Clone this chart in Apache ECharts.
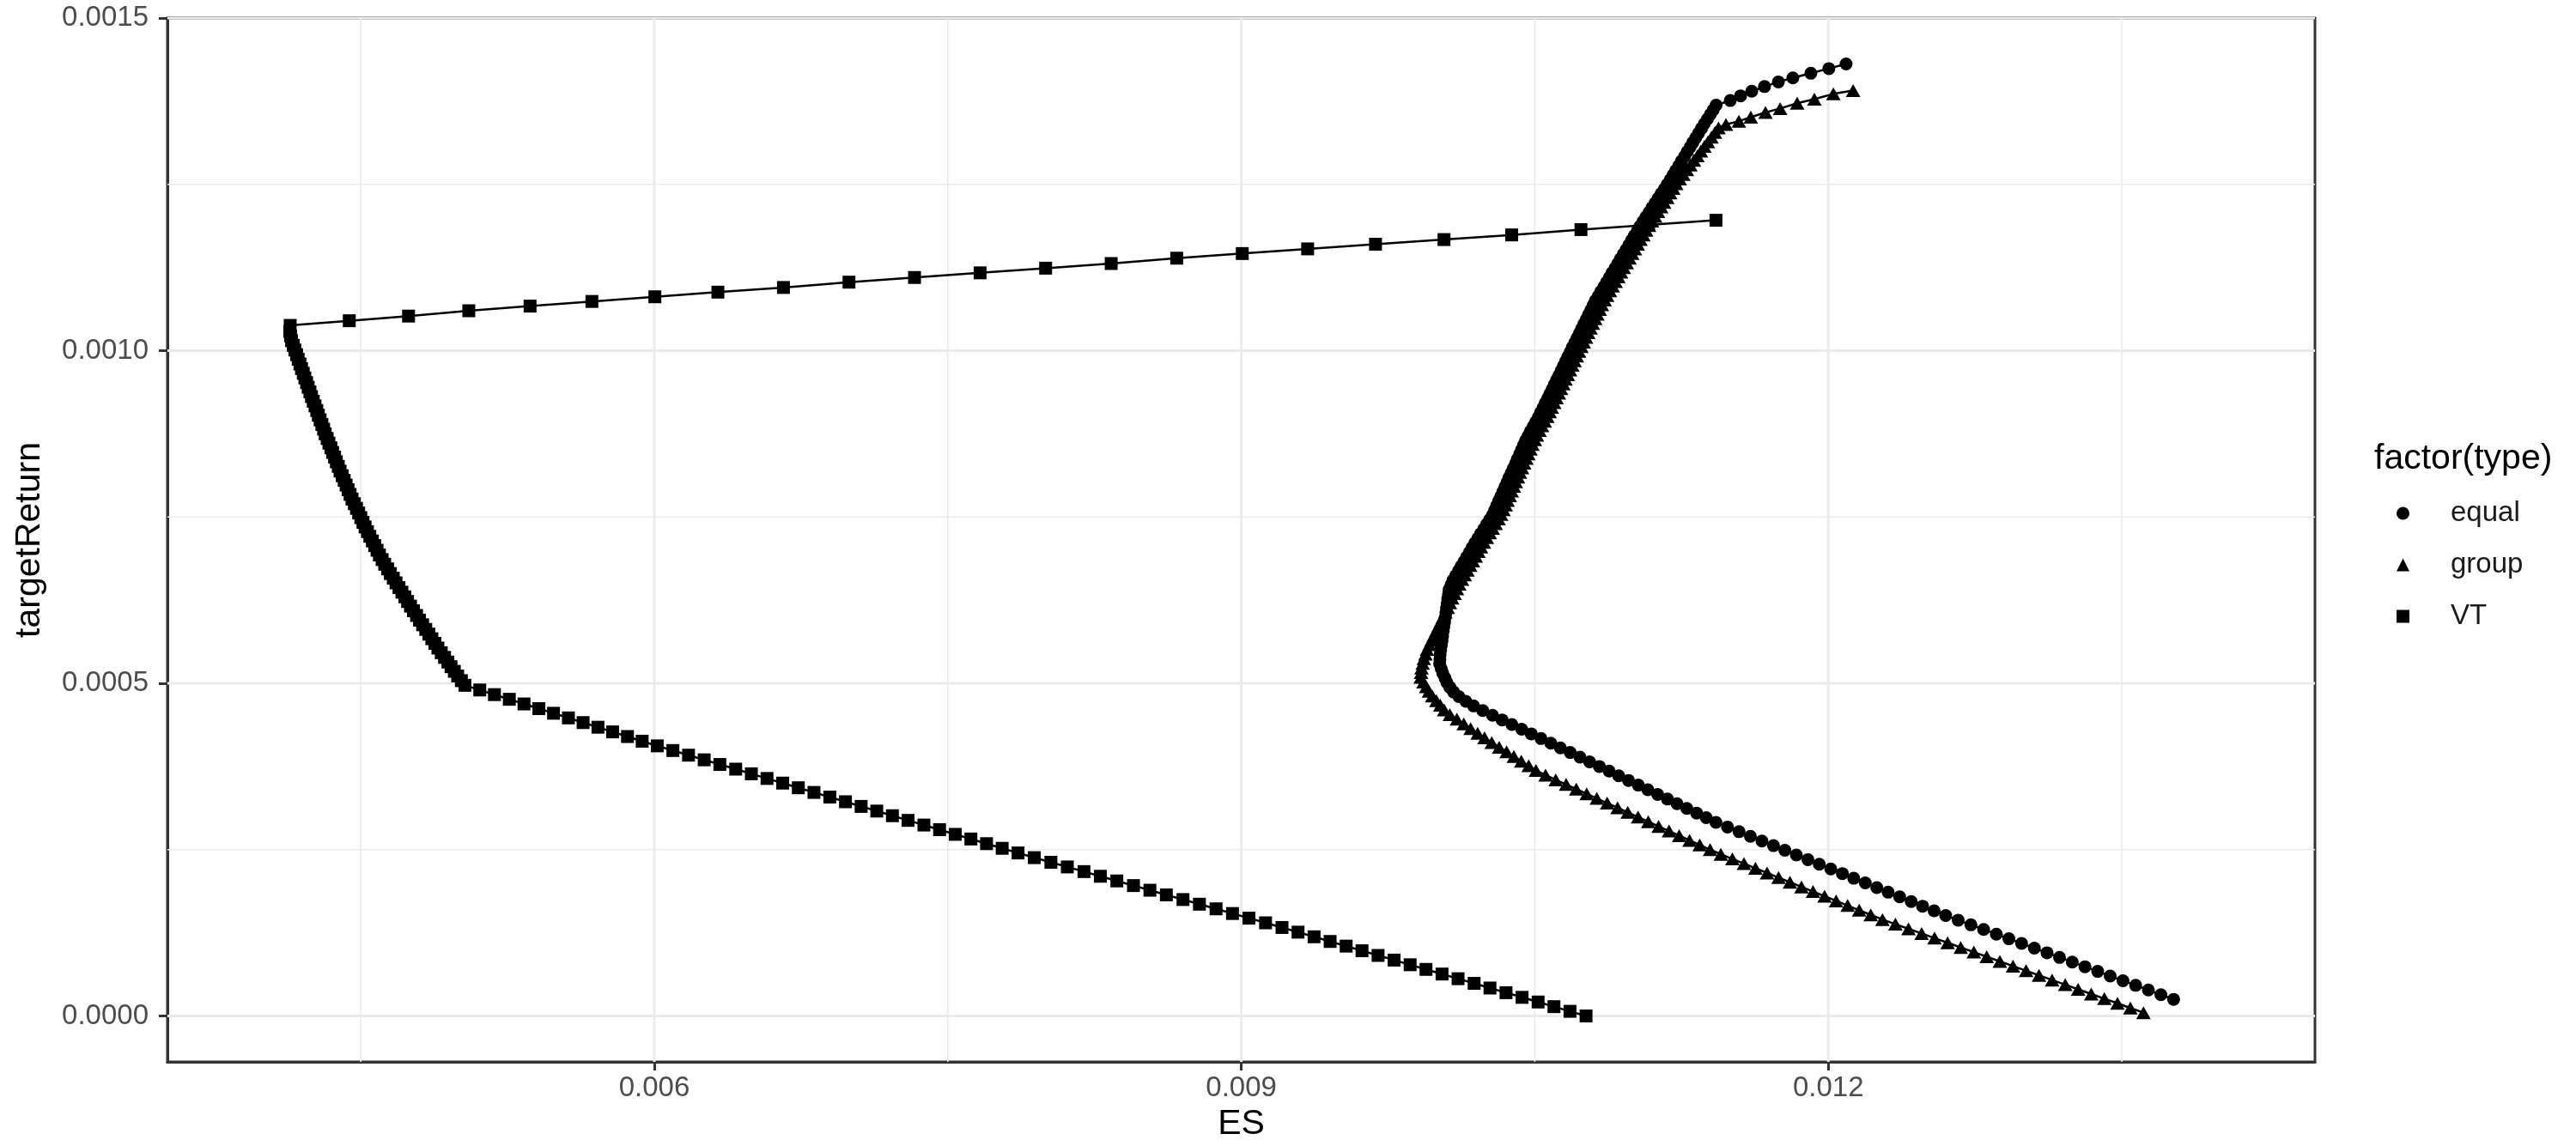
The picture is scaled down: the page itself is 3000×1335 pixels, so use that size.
<!DOCTYPE html>
<html>
<head>
<meta charset="utf-8">
<title>ES vs targetReturn</title>
<script src="https://cdn.jsdelivr.net/npm/echarts@6.0.0/dist/echarts.min.js"></script>
<style>
  html, body { margin: 0; padding: 0; background: #fff; }
  #chart { width: 3000px; height: 1335px; }
</style>
</head>
<body>
<div id="chart"></div>
<script>
// axis limits, ticks and grid lines
const xLimits = [0.0035117, 0.0144874];
const yLimits = [-0.000069, 0.0015];
const xTicks = [0.006, 0.009, 0.012];
const xMinor = [0.0045, 0.0075, 0.0105, 0.0135];
const yTicks = [0, 0.0005, 0.001, 0.0015];
const yMinor = [0.00025, 0.00075, 0.00125];

// VT frontier
const vtES = [
  0.010762, 0.010680, 0.010598, 0.010517, 0.010435, 0.010353, 0.010271, 0.010190, 0.010108, 0.010026,
  0.009944, 0.009863, 0.009781, 0.009699, 0.009617, 0.009536, 0.009454, 0.009372, 0.009290, 0.009208,
  0.009124, 0.009039, 0.008955, 0.008871, 0.008786, 0.008702, 0.008617, 0.008533, 0.008449, 0.008364,
  0.008280, 0.008196, 0.008111, 0.008027, 0.007942, 0.007859, 0.007778, 0.007698, 0.007618, 0.007538,
  0.007458, 0.007378, 0.007297, 0.007217, 0.007137, 0.007057, 0.006977, 0.006897, 0.006816, 0.006736,
  0.006656, 0.006576, 0.006496, 0.006416, 0.006335, 0.006255, 0.006175, 0.006095, 0.006015, 0.005938,
  0.005863, 0.005787, 0.005712, 0.005636, 0.005561, 0.005485, 0.005410, 0.005334, 0.005259, 0.005183,
  0.005108, 0.005032,
  0.005014, 0.004995, 0.004978, 0.004961, 0.004945, 0.004928, 0.004911, 0.004894, 0.004879, 0.004863,
  0.004848, 0.004832, 0.004816, 0.004800, 0.004785, 0.004769, 0.004754, 0.004739, 0.004725, 0.004710,
  0.004695, 0.004680, 0.004666, 0.004651, 0.004637, 0.004622, 0.004609, 0.004595, 0.004583, 0.004571,
  0.004559, 0.004546, 0.004534, 0.004522, 0.004511, 0.004500, 0.004489, 0.004478, 0.004467, 0.004455,
  0.004445, 0.004435, 0.004425, 0.004415, 0.004405, 0.004394, 0.004385, 0.004375, 0.004366, 0.004356,
  0.004347, 0.004337, 0.004328, 0.004318, 0.004310, 0.004301, 0.004292, 0.004283, 0.004275, 0.004266,
  0.004257, 0.004248, 0.004240, 0.004231, 0.004223, 0.004214, 0.004206, 0.004197, 0.004189, 0.004180,
  0.004172, 0.004163, 0.004155, 0.004146, 0.004141, 0.004137,
  0.004139, 0.004441, 0.004744, 0.005052, 0.005365, 0.005681, 0.006003, 0.006325, 0.006660, 0.006995,
  0.007330, 0.007665, 0.008000, 0.008335, 0.008670, 0.009005, 0.009339, 0.009686, 0.010036, 0.010382,
  0.010736, 0.011082, 0.011426
];
const vtReturn = [
  0.000000, 0.000007, 0.000014, 0.000021, 0.000028, 0.000035, 0.000042, 0.000049, 0.000056, 0.000063,
  0.000070, 0.000077, 0.000084, 0.000091, 0.000098, 0.000105, 0.000112, 0.000119, 0.000126, 0.000133,
  0.000140, 0.000147, 0.000154, 0.000161, 0.000168, 0.000175, 0.000182, 0.000189, 0.000196, 0.000203,
  0.000210, 0.000217, 0.000224, 0.000231, 0.000238, 0.000245, 0.000252, 0.000259, 0.000266, 0.000273,
  0.000280, 0.000287, 0.000294, 0.000301, 0.000308, 0.000315, 0.000322, 0.000329, 0.000336, 0.000343,
  0.000350, 0.000357, 0.000364, 0.000371, 0.000378, 0.000385, 0.000392, 0.000399, 0.000406, 0.000413,
  0.000420, 0.000427, 0.000434, 0.000441, 0.000448, 0.000455, 0.000462, 0.000469, 0.000476, 0.000483,
  0.000490, 0.000497,
  0.000504, 0.000511, 0.000518, 0.000525, 0.000532, 0.000539, 0.000546, 0.000553, 0.000560, 0.000567,
  0.000574, 0.000581, 0.000588, 0.000595, 0.000602, 0.000609, 0.000616, 0.000623, 0.000630, 0.000637,
  0.000644, 0.000651, 0.000658, 0.000665, 0.000672, 0.000679, 0.000686, 0.000693, 0.000700, 0.000707,
  0.000714, 0.000721, 0.000728, 0.000735, 0.000742, 0.000749, 0.000756, 0.000763, 0.000770, 0.000777,
  0.000784, 0.000791, 0.000798, 0.000805, 0.000812, 0.000819, 0.000826, 0.000833, 0.000840, 0.000847,
  0.000854, 0.000861, 0.000868, 0.000875, 0.000882, 0.000889, 0.000896, 0.000903, 0.000910, 0.000917,
  0.000924, 0.000931, 0.000938, 0.000945, 0.000952, 0.000959, 0.000966, 0.000973, 0.000980, 0.000987,
  0.000994, 0.001001, 0.001008, 0.001015, 0.001022, 0.001029,
  0.001038, 0.001045, 0.001052, 0.001060, 0.001067, 0.001074, 0.001081, 0.001088, 0.001095, 0.001103,
  0.001110, 0.001117, 0.001124, 0.001131, 0.001139, 0.001146, 0.001153, 0.001160, 0.001167, 0.001174,
  0.001182, 0.001189, 0.001196
];

// equal frontier
const equalES = [
  0.013765, 0.013700, 0.013636, 0.013571, 0.013506, 0.013441, 0.013377, 0.013312, 0.013247, 0.013182,
  0.013118, 0.013053, 0.012988, 0.012923, 0.012859, 0.012794, 0.012729, 0.012664, 0.012600, 0.012541,
  0.012482, 0.012424, 0.012365, 0.012306, 0.012248, 0.012189, 0.012130, 0.012072, 0.012013, 0.011954,
  0.011896, 0.011837, 0.011778, 0.011720, 0.011661, 0.011602, 0.011544, 0.011485, 0.011426, 0.011376,
  0.011327, 0.011277, 0.011227, 0.011178, 0.011128, 0.011078, 0.011029, 0.010979, 0.010929, 0.010880,
  0.010830, 0.010780, 0.010731, 0.010681, 0.010631, 0.010582, 0.010532, 0.010482, 0.010433, 0.010383,
  0.010333, 0.010284, 0.010234, 0.010187, 0.010148, 0.010112, 0.010085, 0.010066, 0.010051,
  0.010041, 0.010030, 0.010022, 0.010014, 0.010015, 0.010016, 0.010019, 0.010022, 0.010026, 0.010029,
  0.010032, 0.010035, 0.010039, 0.010042, 0.010046, 0.010049, 0.010052, 0.010055, 0.010059, 0.010062,
  0.010072, 0.010082, 0.010096, 0.010110, 0.010124, 0.010138, 0.010152, 0.010166, 0.010180, 0.010194,
  0.010209, 0.010224, 0.010239, 0.010254, 0.010269, 0.010284, 0.010295, 0.010305, 0.010316, 0.010326,
  0.010337, 0.010347, 0.010358, 0.010368, 0.010379, 0.010390, 0.010401, 0.010411, 0.010422, 0.010432,
  0.010443, 0.010453, 0.010466, 0.010478, 0.010492, 0.010505, 0.010518, 0.010530, 0.010542, 0.010553,
  0.010565, 0.010577, 0.010589, 0.010600, 0.010612, 0.010623, 0.010635, 0.010646, 0.010658, 0.010669,
  0.010681, 0.010692, 0.010704, 0.010716, 0.010728, 0.010739, 0.010751, 0.010763, 0.010775, 0.010786,
  0.010798, 0.010809, 0.010824, 0.010838, 0.010853, 0.010867, 0.010881, 0.010895, 0.010910, 0.010924,
  0.010938, 0.010952, 0.010967, 0.010981, 0.010995, 0.011009, 0.011024, 0.011038, 0.011053, 0.011068,
  0.011084, 0.011099, 0.011115, 0.011130, 0.011146, 0.011162, 0.011177, 0.011192, 0.011207, 0.011221,
  0.011236, 0.011250, 0.011265, 0.011279, 0.011294, 0.011308, 0.011323, 0.011337, 0.011352, 0.011366,
  0.011382, 0.011397, 0.011412, 0.011427,
  0.011499, 0.011552, 0.011609, 0.011674, 0.011745, 0.011819, 0.011911, 0.012003, 0.012091
];
const equalReturn = [
  0.000025, 0.000032, 0.000039, 0.000046, 0.000053, 0.000060, 0.000067, 0.000074, 0.000081, 0.000088,
  0.000095, 0.000102, 0.000109, 0.000116, 0.000123, 0.000130, 0.000137, 0.000144, 0.000151, 0.000158,
  0.000165, 0.000172, 0.000179, 0.000186, 0.000193, 0.000200, 0.000207, 0.000214, 0.000221, 0.000228,
  0.000235, 0.000242, 0.000249, 0.000256, 0.000263, 0.000270, 0.000277, 0.000284, 0.000291, 0.000298,
  0.000305, 0.000312, 0.000319, 0.000326, 0.000333, 0.000340, 0.000347, 0.000354, 0.000361, 0.000368,
  0.000375, 0.000382, 0.000389, 0.000396, 0.000403, 0.000410, 0.000417, 0.000424, 0.000431, 0.000438,
  0.000445, 0.000452, 0.000459, 0.000466, 0.000473, 0.000480, 0.000487, 0.000494, 0.000501,
  0.000508, 0.000515, 0.000522, 0.000529, 0.000536, 0.000543, 0.000550, 0.000557, 0.000564, 0.000571,
  0.000578, 0.000585, 0.000592, 0.000599, 0.000606, 0.000613, 0.000620, 0.000627, 0.000634, 0.000641,
  0.000648, 0.000655, 0.000662, 0.000669, 0.000676, 0.000683, 0.000690, 0.000697, 0.000704, 0.000711,
  0.000718, 0.000725, 0.000732, 0.000739, 0.000746, 0.000753, 0.000760, 0.000767, 0.000774, 0.000781,
  0.000788, 0.000795, 0.000802, 0.000809, 0.000816, 0.000823, 0.000830, 0.000837, 0.000844, 0.000851,
  0.000858, 0.000865, 0.000872, 0.000879, 0.000886, 0.000893, 0.000900, 0.000907, 0.000914, 0.000921,
  0.000928, 0.000935, 0.000942, 0.000949, 0.000956, 0.000963, 0.000970, 0.000977, 0.000984, 0.000991,
  0.000998, 0.001005, 0.001012, 0.001019, 0.001026, 0.001033, 0.001040, 0.001047, 0.001054, 0.001061,
  0.001068, 0.001075, 0.001082, 0.001089, 0.001096, 0.001103, 0.001110, 0.001117, 0.001124, 0.001131,
  0.001138, 0.001145, 0.001152, 0.001159, 0.001166, 0.001173, 0.001180, 0.001187, 0.001194, 0.001201,
  0.001208, 0.001215, 0.001222, 0.001229, 0.001236, 0.001243, 0.001250, 0.001257, 0.001264, 0.001271,
  0.001278, 0.001285, 0.001292, 0.001299, 0.001306, 0.001313, 0.001320, 0.001327, 0.001334, 0.001341,
  0.001348, 0.001355, 0.001362, 0.001369,
  0.001376, 0.001383, 0.001390, 0.001397, 0.001404, 0.001410, 0.001417, 0.001424, 0.001431
];

// group frontier
const groupES = [
  0.013611, 0.013544, 0.013478, 0.013411, 0.013344, 0.013277, 0.013211, 0.013144, 0.013077, 0.013011,
  0.012944, 0.012877, 0.012810, 0.012744, 0.012677, 0.012610, 0.012543, 0.012477, 0.012410, 0.012343,
  0.012277, 0.012217, 0.012158, 0.012099, 0.012040, 0.011981, 0.011922, 0.011863, 0.011804, 0.011746,
  0.011687, 0.011628, 0.011569, 0.011510, 0.011451, 0.011396, 0.011343, 0.011291, 0.011238, 0.011186,
  0.011133, 0.011080, 0.011028, 0.010975, 0.010923, 0.010870, 0.010817, 0.010765, 0.010712, 0.010660,
  0.010607, 0.010555, 0.010506, 0.010469, 0.010431, 0.010393, 0.010356, 0.010318, 0.010280, 0.010243,
  0.010208, 0.010172, 0.010137, 0.010102, 0.010066, 0.010037, 0.010017, 0.009997, 0.009976, 0.009959,
  0.009945, 0.009931, 0.009917,
  0.009919, 0.009921, 0.009927, 0.009933, 0.009941, 0.009949, 0.009961, 0.009972, 0.009984, 0.009996,
  0.010008, 0.010019, 0.010031, 0.010043, 0.010055, 0.010066, 0.010078, 0.010090, 0.010102, 0.010114,
  0.010128, 0.010142, 0.010156, 0.010170, 0.010184, 0.010198, 0.010212, 0.010225, 0.010240, 0.010255,
  0.010270, 0.010285, 0.010300, 0.010315, 0.010328, 0.010340, 0.010351, 0.010361, 0.010372, 0.010382,
  0.010393, 0.010403, 0.010414, 0.010424, 0.010435, 0.010446, 0.010457, 0.010467, 0.010478, 0.010488,
  0.010500, 0.010511, 0.010524, 0.010537, 0.010551, 0.010564, 0.010576, 0.010587, 0.010599, 0.010611,
  0.010623, 0.010634, 0.010646, 0.010657, 0.010669, 0.010680, 0.010692, 0.010703, 0.010715, 0.010726,
  0.010738, 0.010750, 0.010762, 0.010773, 0.010785, 0.010797, 0.010809, 0.010820, 0.010832, 0.010843,
  0.010857, 0.010870, 0.010884, 0.010898, 0.010913, 0.010927, 0.010941, 0.010955, 0.010970, 0.010984,
  0.010998, 0.011012, 0.011026, 0.011040, 0.011055, 0.011069, 0.011084, 0.011099, 0.011115, 0.011130,
  0.011146, 0.011161, 0.011177, 0.011192, 0.011208, 0.011223, 0.011241, 0.011259, 0.011277, 0.011295,
  0.011313, 0.011331, 0.011349, 0.011367, 0.011385, 0.011403, 0.011421, 0.011439,
  0.011477, 0.011543, 0.011604, 0.011679, 0.011754, 0.011841, 0.011929, 0.012026, 0.012127
];
const groupReturn = [
  0.000005, 0.000012, 0.000019, 0.000026, 0.000033, 0.000040, 0.000047, 0.000054, 0.000061, 0.000068,
  0.000075, 0.000082, 0.000089, 0.000096, 0.000103, 0.000110, 0.000117, 0.000124, 0.000131, 0.000138,
  0.000145, 0.000152, 0.000159, 0.000166, 0.000173, 0.000180, 0.000187, 0.000194, 0.000201, 0.000208,
  0.000215, 0.000222, 0.000229, 0.000236, 0.000243, 0.000250, 0.000257, 0.000264, 0.000271, 0.000278,
  0.000285, 0.000292, 0.000299, 0.000306, 0.000313, 0.000320, 0.000327, 0.000334, 0.000341, 0.000348,
  0.000355, 0.000362, 0.000369, 0.000376, 0.000383, 0.000390, 0.000397, 0.000404, 0.000411, 0.000418,
  0.000425, 0.000432, 0.000439, 0.000446, 0.000453, 0.000460, 0.000467, 0.000474, 0.000481, 0.000488,
  0.000495, 0.000502, 0.000509,
  0.000516, 0.000523, 0.000530, 0.000537, 0.000544, 0.000551, 0.000558, 0.000565, 0.000572, 0.000579,
  0.000586, 0.000593, 0.000600, 0.000607, 0.000614, 0.000621, 0.000628, 0.000635, 0.000642, 0.000649,
  0.000656, 0.000663, 0.000670, 0.000677, 0.000684, 0.000691, 0.000698, 0.000705, 0.000712, 0.000719,
  0.000726, 0.000733, 0.000740, 0.000747, 0.000754, 0.000761, 0.000768, 0.000775, 0.000782, 0.000789,
  0.000796, 0.000803, 0.000810, 0.000817, 0.000824, 0.000831, 0.000838, 0.000845, 0.000852, 0.000859,
  0.000866, 0.000873, 0.000880, 0.000887, 0.000894, 0.000901, 0.000908, 0.000915, 0.000922, 0.000929,
  0.000936, 0.000943, 0.000950, 0.000957, 0.000964, 0.000971, 0.000978, 0.000985, 0.000992, 0.000999,
  0.001006, 0.001013, 0.001020, 0.001027, 0.001034, 0.001041, 0.001048, 0.001055, 0.001062, 0.001069,
  0.001076, 0.001083, 0.001090, 0.001097, 0.001104, 0.001111, 0.001118, 0.001125, 0.001132, 0.001139,
  0.001146, 0.001153, 0.001160, 0.001167, 0.001174, 0.001181, 0.001188, 0.001195, 0.001202, 0.001209,
  0.001216, 0.001223, 0.001230, 0.001237, 0.001244, 0.001251, 0.001258, 0.001265, 0.001272, 0.001279,
  0.001286, 0.001293, 0.001300, 0.001307, 0.001314, 0.001321, 0.001328, 0.001335,
  0.001340, 0.001345, 0.001351, 0.001358, 0.001364, 0.001372, 0.001378, 0.001386, 0.001391
];

const FONT = 'Liberation Sans, Arial, Helvetica, sans-serif';

function pairs(xs, ys) {
  return xs.map((x, i) => [x, ys[i]]);
}

function frontier(name, xs, ys, symbol, size) {
  return {
    name: name,
    type: 'line',
    data: pairs(xs, ys),
    symbol: symbol,
    symbolSize: size,
    showSymbol: true,
    showAllSymbol: true,
    z: 3,
    itemStyle: { color: '#000', borderWidth: 0 },
    lineStyle: { color: '#000', width: 2.5 },
    emphasis: { disabled: true }
  };
}

// panel grid lines (theme_bw style), drawn below the data
function gridLine(pts, width) {
  return {
    type: 'line',
    data: pts,
    z: 1,
    silent: true,
    symbol: 'none',
    lineStyle: { color: '#ebebeb', width: width },
    emphasis: { disabled: true }
  };
}

const gridSeries = []
  .concat(xMinor.map(v => gridLine([[v, yLimits[0]], [v, yLimits[1]]], 1.6)))
  .concat(yMinor.map(v => gridLine([[xLimits[0], v], [xLimits[1], v]], 1.6)))
  .concat(xTicks.map(v => gridLine([[v, yLimits[0]], [v, yLimits[1]]], 3)))
  .concat(yTicks.map(v => gridLine([[xLimits[0], v], [xLimits[1], v]], 3)));

const chart = echarts.init(document.getElementById('chart'));

const option = {
  backgroundColor: '#ffffff',
  animation: false,
  title: {
    text: 'factor(type)',
    left: 2765,
    top: 514,
    padding: 0,
    textStyle: { fontFamily: FONT, fontSize: 41, fontWeight: 'normal', color: '#000' }
  },
  legend: {
    data: [
      { name: 'equal', icon: 'circle' },
      { name: 'group', icon: 'triangle' },
      { name: 'VT', icon: 'rect' }
    ],
    orient: 'vertical',
    left: 2791,
    top: 581,
    padding: 0,
    itemWidth: 15,
    itemHeight: 15,
    itemGap: 26,
    selectedMode: false,
    textStyle: {
      fontFamily: FONT,
      fontSize: 33,
      lineHeight: 34,
      color: '#1a1a1a',
      padding: [0, 0, 0, 43]
    }
  },
  grid: {
    left: 195,
    right: 304,
    top: 21,
    bottom: 98,
    containLabel: false,
    outerBoundsMode: 'none',
    show: true,
    borderColor: '#333333',
    borderWidth: 3,
    backgroundColor: '#ffffff'
  },
  xAxis: {
    type: 'value',
    min: xLimits[0],
    max: xLimits[1],
    name: 'ES',
    nameLocation: 'middle',
    nameGap: 50,
    nameTextStyle: { fontFamily: FONT, fontSize: 41, color: '#000' },
    axisLine: { show: true, onZero: false, lineStyle: { color: '#333333', width: 3 } },
    axisTick: { show: true, length: 10, customValues: xTicks, lineStyle: { color: '#333333', width: 3 } },
    axisLabel: {
      customValues: xTicks,
      margin: 14,
      fontFamily: FONT,
      fontSize: 33,
      color: '#4d4d4d',
      formatter: v => v.toFixed(3)
    },
    splitLine: { show: false }
  },
  yAxis: {
    type: 'value',
    min: yLimits[0],
    max: yLimits[1],
    name: 'targetReturn',
    nameLocation: 'middle',
    nameGap: 140,
    nameTextStyle: { fontFamily: FONT, fontSize: 41, color: '#000' },
    axisLine: { show: true, onZero: false, lineStyle: { color: '#333333', width: 3 } },
    axisTick: { show: true, length: 10, customValues: yTicks, lineStyle: { color: '#333333', width: 3 } },
    axisLabel: {
      customValues: yTicks,
      margin: 22,
      fontFamily: FONT,
      fontSize: 33,
      color: '#4d4d4d',
      formatter: v => v.toFixed(4)
    },
    splitLine: { show: false }
  },
  series: gridSeries.concat([
    frontier('equal', equalES, equalReturn, 'circle', 15),
    frontier('group', groupES, groupReturn, 'triangle', [17, 15]),
    frontier('VT', vtES, vtReturn, 'rect', 15)
  ])
};

chart.setOption(option);
</script>
</body>
</html>
